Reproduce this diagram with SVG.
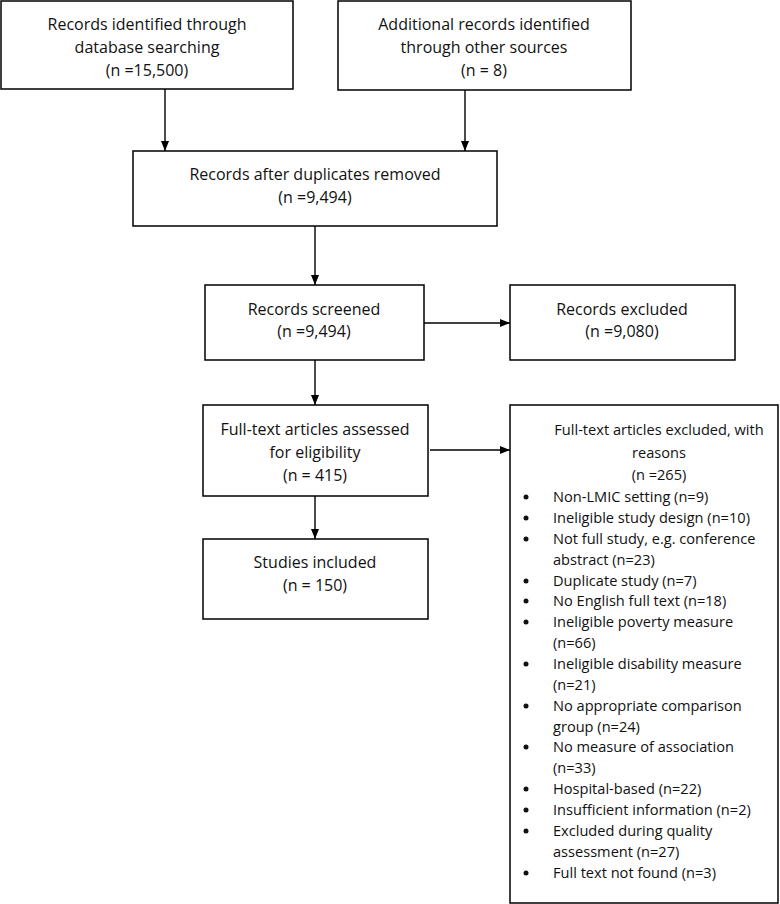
<svg xmlns="http://www.w3.org/2000/svg" width="780" height="904" viewBox="0 0 780 904">
<defs>
<marker id="ah" markerWidth="10" markerHeight="8" refX="10" refY="4" orient="auto" markerUnits="userSpaceOnUse">
<path d="M0,0 L10,4 L0,8 Z" fill="#000"/>
</marker>
<style>
.box{fill:#fff;stroke:#000;stroke-width:1.5}
.t{font-family:"Open Sans","Liberation Sans",sans-serif;font-size:16px;fill:#111;text-anchor:middle}
.h{font-family:"Open Sans","Liberation Sans",sans-serif;font-size:14.6px;fill:#111;text-anchor:middle}
.l{font-family:"Open Sans","Liberation Sans",sans-serif;font-size:14.6px;fill:#111}
.c{fill:none;stroke:#000;stroke-width:1.4;marker-end:url(#ah)}
.b{fill:#111}
</style>
</defs>
<rect width="780" height="904" fill="#fff"/>
<g id="connectors">
<path class="c" d="M165,89 V151"/>
<path class="c" d="M465,90 V151"/>
<path class="c" d="M315,226 V285"/>
<path class="c" d="M424,323 H510"/>
<path class="c" d="M315,360 V405"/>
<path class="c" d="M430,450 H510"/>
<path class="c" d="M315,496 V539"/>
</g>
<g id="n1">
<rect class="box" x="1" y="1" width="292" height="88"/>
<text class="t" x="147" y="30">Records identified through</text>
<text class="t" x="147" y="53">database searching</text>
<text class="t" x="147" y="76">(n =15,500)</text>
</g>
<g id="n2">
<rect class="box" x="338" y="1" width="293" height="89"/>
<text class="t" x="484" y="30">Additional records identified</text>
<text class="t" x="484" y="53">through other sources</text>
<text class="t" x="484" y="76">(n = 8)</text>
</g>
<g id="n3">
<rect class="box" x="133" y="151" width="364" height="75"/>
<text class="t" x="315" y="180">Records after duplicates removed</text>
<text class="t" x="315" y="203">(n =9,494)</text>
</g>
<g id="n4">
<rect class="box" x="205" y="285" width="219" height="75"/>
<text class="t" x="314" y="315">Records screened</text>
<text class="t" x="314" y="337">(n =9,494)</text>
</g>
<g id="n5">
<rect class="box" x="510" y="285" width="225" height="75"/>
<text class="t" x="622" y="315">Records excluded</text>
<text class="t" x="622" y="337">(n =9,080)</text>
</g>
<g id="n6">
<rect class="box" x="203" y="405" width="225" height="91"/>
<text class="t" x="315" y="435">Full-text articles assessed</text>
<text class="t" x="315" y="458">for eligibility</text>
<text class="t" x="315" y="481">(n = 415)</text>
</g>
<g id="n7">
<rect class="box" x="203" y="539" width="225" height="80"/>
<text class="t" x="315" y="568">Studies included</text>
<text class="t" x="315" y="591">(n = 150)</text>
</g>
<g id="n8">
<rect class="box" x="510" y="405" width="268" height="498"/>
<text class="h" x="659" y="435">Full-text articles excluded, with</text>
<text class="h" x="659" y="458">reasons</text>
<text class="h" x="659" y="480">(n =265)</text>
<circle class="b" cx="526" cy="497" r="2.5"/><text class="l" x="553" y="502">Non-LMIC setting (n=9)</text>
<circle class="b" cx="526" cy="518" r="2.5"/><text class="l" x="553" y="523">Ineligible study design (n=10)</text>
<circle class="b" cx="526" cy="539" r="2.5"/><text class="l" x="553" y="544">Not full study, e.g. conference</text>
<text class="l" x="553" y="565">abstract (n=23)</text>
<circle class="b" cx="526" cy="581" r="2.5"/><text class="l" x="553" y="586">Duplicate study (n=7)</text>
<circle class="b" cx="526" cy="601" r="2.5"/><text class="l" x="553" y="606">No English full text (n=18)</text>
<circle class="b" cx="526" cy="622" r="2.5"/><text class="l" x="553" y="627">Ineligible poverty measure</text>
<text class="l" x="553" y="648">(n=66)</text>
<circle class="b" cx="526" cy="664" r="2.5"/><text class="l" x="553" y="669">Ineligible disability measure</text>
<text class="l" x="553" y="690">(n=21)</text>
<circle class="b" cx="526" cy="706" r="2.5"/><text class="l" x="553" y="711">No appropriate comparison</text>
<text class="l" x="553" y="732">group (n=24)</text>
<circle class="b" cx="526" cy="747" r="2.5"/><text class="l" x="553" y="752">No measure of association</text>
<text class="l" x="553" y="773">(n=33)</text>
<circle class="b" cx="526" cy="789" r="2.5"/><text class="l" x="553" y="794">Hospital-based (n=22)</text>
<circle class="b" cx="526" cy="810" r="2.5"/><text class="l" x="553" y="815">Insufficient information (n=2)</text>
<circle class="b" cx="526" cy="831" r="2.5"/><text class="l" x="553" y="836">Excluded during quality</text>
<text class="l" x="553" y="857">assessment (n=27)</text>
<circle class="b" cx="526" cy="873" r="2.5"/><text class="l" x="553" y="878">Full text not found (n=3)</text>
</g>
</svg>
